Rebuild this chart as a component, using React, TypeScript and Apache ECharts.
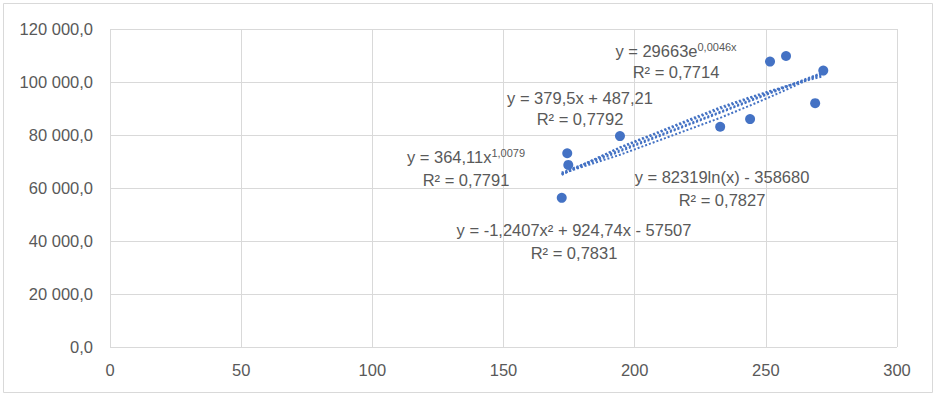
import React, { useEffect, useRef } from "react";
import * as echarts from "echarts";

const xValues = [172.2, 174.3, 174.7, 194.4, 232.6, 244.0, 251.6, 257.7, 268.8, 271.9];
const yValues = [56300, 73100, 68700, 79600, 83100, 86000, 107700, 109800, 92000, 104300];

const xTicks = { min: 0, max: 300, interval: 50 };
const yTicks = { min: 0, max: 120000, interval: 20000 };

// trendline coefficients as displayed on the chart
const linearCoef = [379.5, 487.21];
const expCoef = [29663, 0.0046];
const powerCoef = [364.11, 1.0079];
const logCoef = [82319, -358680];
const polyCoef = [-1.2407, 924.74, -57507];

const eqTexts = [
  { base: "y = 29663e", sup: "0,0046x", r2: "R² = 0,7714", cx: 676, cy: 51, r2y: 72 },
  { base: "y = 379,5x + 487,21", sup: "", r2: "R² = 0,7792", cx: 580, cy: 98, r2y: 119 },
  { base: "y = 364,11x", sup: "1,0079", r2: "R² = 0,7791", cx: 466, cy: 157, r2y: 180 },
  { base: "y = 82319ln(x) - 358680", sup: "", r2: "R² = 0,7827", cx: 722, cy: 177, r2y: 200 },
  { base: "y = -1,2407x² + 924,74x - 57507", sup: "", r2: "R² = 0,7831", cx: 574, cy: 230, r2y: 253 },
];

const BLUE = "#4472C4";
const TEXT = "#595959";
const GRID = "#d9d9d9";
const FONT = "Liberation Sans";

function fmtY(v: number) {
  return Math.round(v).toString().replace(/\B(?=(\d{3})+(?!\d))/g, " ") + ",0";
}

export default function App() {
  const ref = useRef<HTMLDivElement>(null);
  useEffect(() => {
    document.body.style.margin = "0";
    if (!ref.current) return;
    const chart = echarts.init(ref.current, undefined, { renderer: "svg" });
    const xs = [...xValues].sort((a, b) => a - b);
    const fns: ((x: number) => number)[] = [
      (x) => linearCoef[0] * x + linearCoef[1],
      (x) => expCoef[0] * Math.exp(expCoef[1] * x),
      (x) => powerCoef[0] * Math.pow(x, powerCoef[1]),
      (x) => logCoef[0] * Math.log(x) + logCoef[1],
      (x) => polyCoef[0] * x * x + polyCoef[1] * x + polyCoef[2],
    ];
    const trendSeries = fns.map((f) => ({
      type: "line",
      data: xs.map((x) => [x, f(x)]),
      showSymbol: false,
      symbol: "none",
      smooth: false,
      lineStyle: { color: BLUE, width: 2, type: [2, 2] },
      z: 2,
      silent: true,
    }));
    const graphics: any[] = [
      {
        type: "rect",
        shape: { x: 3.5, y: 3.5, width: 929, height: 389 },
        style: { fill: "none", stroke: GRID, lineWidth: 1 },
        silent: true,
        z: 0,
      },
    ];
    eqTexts.forEach((e) => {
      const rich = e.sup ? `{b|${e.base}}{s|${e.sup}}` : `{b|${e.base}}`;
      graphics.push({
        type: "text",
        x: e.cx,
        y: e.cy,
        z: 10,
        style: {
          text: rich,
          align: "center",
          verticalAlign: "middle",
          fill: TEXT,
          rich: {
            b: { fontSize: 16.5, fontFamily: FONT, fill: TEXT, lineHeight: 20 },
            s: { fontSize: 11, fontFamily: FONT, fill: TEXT, lineHeight: 20, verticalAlign: "top" },
          },
        },
      });
      graphics.push({
        type: "text",
        x: e.cx,
        y: e.r2y,
        z: 10,
        style: {
          text: e.r2,
          align: "center",
          verticalAlign: "middle",
          fill: TEXT,
          fontSize: 16.5,
          fontFamily: FONT,
        },
      });
    });
    chart.setOption({
      animation: false,
      backgroundColor: "#ffffff",
      grid: { left: 110, right: 46, top: 29, bottom: 55, containLabel: false },
      xAxis: {
        type: "value",
        min: xTicks.min,
        max: xTicks.max,
        interval: xTicks.interval,
        axisLine: { show: false },
        axisTick: { show: false },
        splitLine: { show: true, lineStyle: { color: GRID, width: 1 } },
        axisLabel: { color: TEXT, fontSize: 16.5, fontFamily: FONT, margin: 14 },
      },
      yAxis: {
        type: "value",
        min: yTicks.min,
        max: yTicks.max,
        interval: yTicks.interval,
        axisLine: { show: false },
        axisTick: { show: false },
        splitLine: { show: true, lineStyle: { color: GRID, width: 1 } },
        axisLabel: { color: TEXT, fontSize: 16.5, fontFamily: FONT, margin: 17, formatter: (v: number) => fmtY(v) },
      },
      series: [
        ...trendSeries,
        {
          type: "scatter",
          data: xValues.map((x, i) => [x, yValues[i]]),
          symbol: "circle",
          symbolSize: 10,
          itemStyle: { color: BLUE, opacity: 1 },
          z: 5,
        },
      ],
      graphic: graphics,
    });
    return () => chart.dispose();
  }, []);
  return <div ref={ref} style={{ width: 943, height: 402 }} />;
}
